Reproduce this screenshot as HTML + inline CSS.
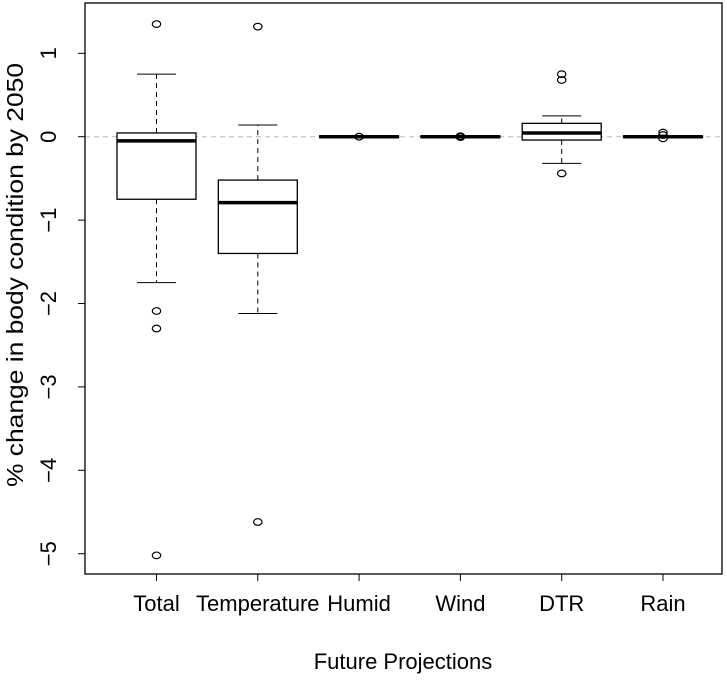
<!DOCTYPE html>
<html><head><meta charset="utf-8"><style>
body{margin:0;background:#fff}
svg text{font-family:"Liberation Sans",Arial,sans-serif;fill:#000}
</style></head><body>
<svg id="chart" width="727" height="679" xmlns="http://www.w3.org/2000/svg">
<g id="plot"></g>
</svg>
<script>
const categories=["Total","Temperature","Humid","Wind","DTR","Rain"];
const q1=[-0.75,-1.4,-0.01,-0.01,-0.04,-0.01];
const q3=[0.045,-0.52,0.01,0.01,0.16,0.01];
const medians=[-0.05,-0.79,0,0,0.045,0];
const whiskerLow=[-1.75,-2.12,-0.01,-0.01,-0.32,-0.01];
const whiskerHigh=[0.75,0.14,0.01,0.01,0.25,0.01];
const outliers=[[1.35,-2.09,-2.3,-5.02],[1.32,-4.62],[0],[0,-0.005,0.005],[0.68,0.75,-0.44],[0.05,0.02,-0.02]];
const yTicks=[1,0,-1,-2,-3,-4,-5];
const NS="http://www.w3.org/2000/svg";
const L=85,R=722,T=3,B=574;
const y=v=>136.7-83.4*v;
const bx=i=>156.5+101.3*i;
const g=document.getElementById('plot');
function el(tag,attrs,parent){const e=document.createElementNS(NS,tag);for(const k in attrs)e.setAttribute(k,attrs[k]);(parent||g).appendChild(e);return e;}
let e;
e=el('line',{x1:L,x2:R,y1:y(0),y2:y(0),stroke:'#bbb','stroke-dasharray':'5,4','stroke-width':1});


categories.forEach((c,i)=>{
  const cx=bx(i),hw=39.5,cw=19.5;
  e=el('line',{x1:cx,x2:cx,y1:y(q3[i]),y2:y(whiskerHigh[i]),stroke:'#000','stroke-dasharray':'5,4'});
  
  
  e=el('line',{x1:cx,x2:cx,y1:y(q1[i]),y2:y(whiskerLow[i]),stroke:'#000','stroke-dasharray':'5,4'});
  
  
  e=el('line',{x1:cx-cw,x2:cx+cw,y1:y(whiskerHigh[i]),y2:y(whiskerHigh[i]),stroke:'#000'});
  
  
  e=el('line',{x1:cx-cw,x2:cx+cw,y1:y(whiskerLow[i]),y2:y(whiskerLow[i]),stroke:'#000'});
  
  
  e=el('rect',{x:cx-hw,y:y(q3[i]),width:2*hw,height:Math.max(y(q1[i])-y(q3[i]),0.5),fill:'#fff',stroke:'#000','stroke-width':1.3});
  
  
  e=el('line',{x1:cx-hw,x2:cx+hw,y1:y(medians[i]),y2:y(medians[i]),stroke:'#000','stroke-width':3.5});
  
  
  outliers[i].forEach(v=>{
    e=el('ellipse',{cx:cx,cy:y(v),rx:4.2,ry:3.3,fill:'none',stroke:'#000','stroke-width':1.2});
    
    
  });
  e=el('line',{x1:cx,x2:cx,y1:B,y2:B+7,stroke:'#000'});
  
  
  e=el('text',{x:cx,y:611,'text-anchor':'middle','font-size':22});
  e.textContent=c;
  
  
});
yTicks.forEach(v=>{
  e=el('line',{x1:L-7,x2:L,y1:y(v),y2:y(v),stroke:'#000'});
  
  
  e=el('text',{x:0,y:0,'text-anchor':'middle','font-size':22,transform:`translate(56,${y(v)}) rotate(-90)`});
  e.textContent=v<0?'\u2212'+(-v):String(v);
  
  
});
e=el('rect',{x:L,y:T,width:R-L,height:B-T,fill:'none',stroke:'#000','stroke-width':1.3});


e=el('text',{x:403,y:669,'text-anchor':'middle','font-size':22});
e.textContent='Future Projections';


e=el('text',{x:0,y:0,'text-anchor':'middle','font-size':23,textLength:424,lengthAdjust:'spacingAndGlyphs',transform:'translate(23,275) rotate(-90)'});
e.textContent='% change in body condition by 2050';


</script>
</body></html>
